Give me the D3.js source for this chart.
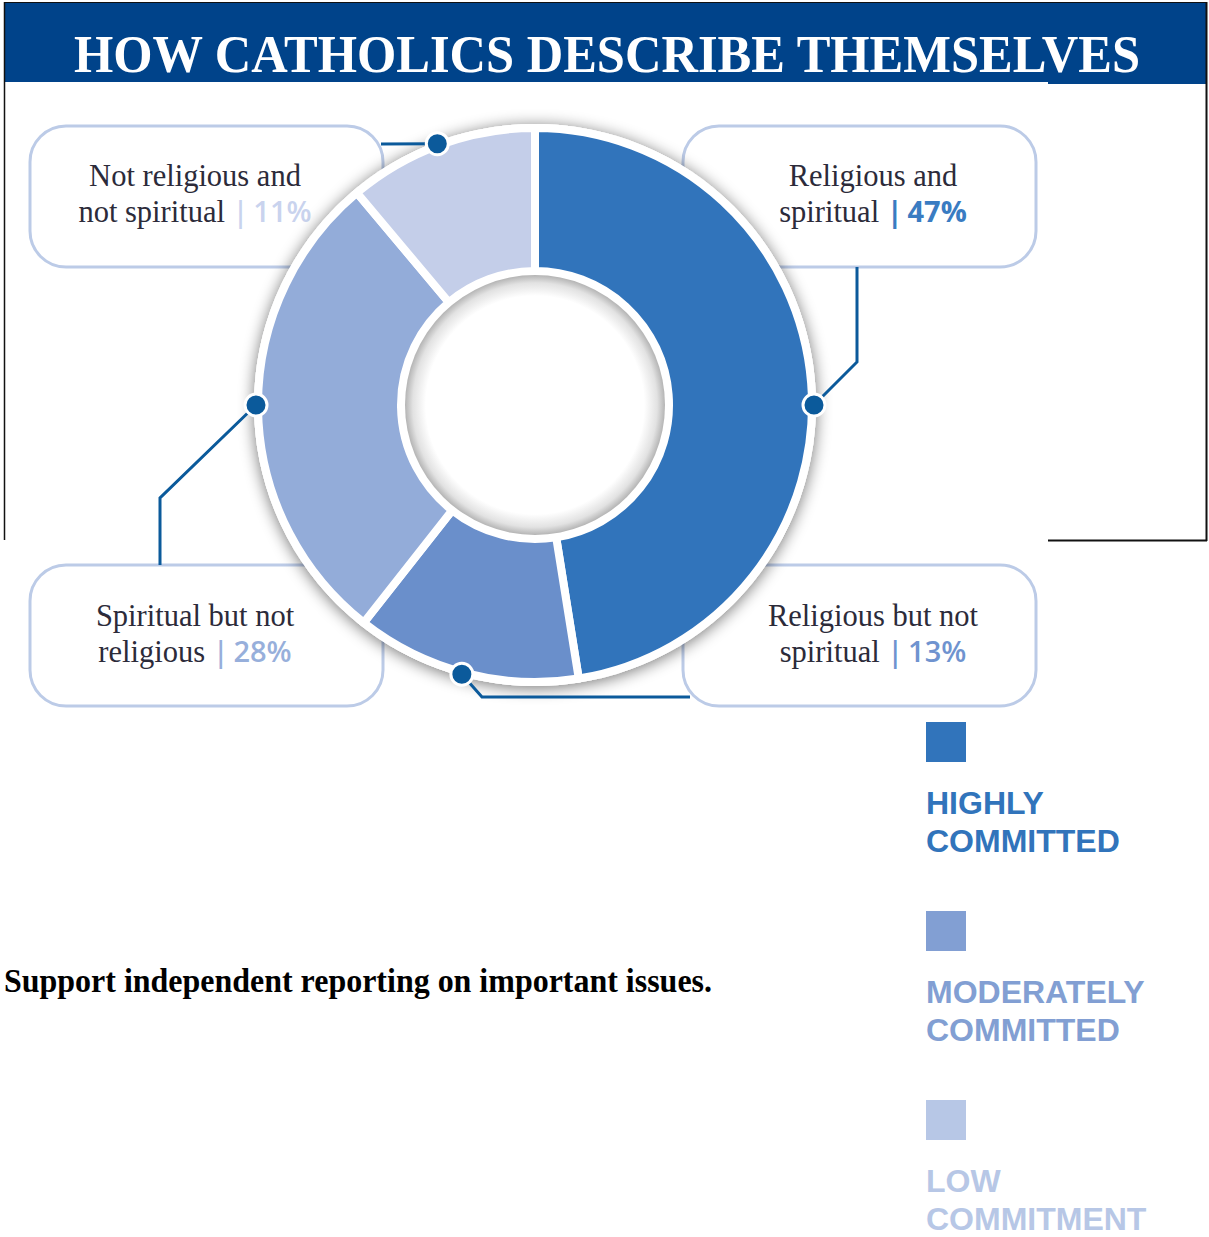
<!DOCTYPE html>
<html>
<head>
<meta charset="utf-8">
<script src="https://cdn.jsdelivr.net/npm/d3@7"></script>
<style>
  body { margin: 0; background: #fff; }
  svg { display: block; }
</style>
</head>
<body>
<div id="chart"></div>
<script>
// ---- data ----
const segNames = ['Religious and spiritual', 'Religious but not spiritual', 'Spiritual but not religious', 'Not religious and not spiritual'];
const segValues = [47, 13, 28, 11];
const segColors = ['#3174bb', '#6a8fcb', '#93acd9', '#c4cee9'];
const segPctColors = ['#3a7cc2', '#6f93cf', '#97afdb', '#c9d3ee'];
const segLines = [
    ['Religious and', 'spiritual'],
    ['Religious but not', 'spiritual'],
    ['Spiritual but not', 'religious'],
    ['Not religious and', 'not spiritual']
];
const legendNames = [['HIGHLY', 'COMMITTED'], ['MODERATELY', 'COMMITTED'], ['LOW', 'COMMITMENT']];
const legendColors = ['#3174bb', '#829fd3', '#b7c7e6'];

const titleText = 'HOW CATHOLICS DESCRIBE THEMSELVES';
const footText = 'Support independent reporting on important issues.';

// ---- layout ----
const W = 1209, H = 1237;
const cx = 535, cy = 405;
const outerR = 277, innerR = 134;
const dotR = 279;

// label boxes: top-left corner, text center x, first baseline, connector
const boxes = [
    { x: 683, y: 126, tx: 873, ty: 186, dotAngle: 90,    path: [[857, 362], [857, 267]] },
    { x: 683, y: 565, tx: 873, ty: 626, dotAngle: 195.2, path: [[482, 697], [690, 697]] },
    { x: 30,  y: 565, tx: 195, ty: 626, dotAngle: 270,   path: [[160, 498], [160, 565]] },
    { x: 30,  y: 126, tx: 195, ty: 186, dotAngle: 339.5, path: [[381, 144]] }
];
const boxW = 353, boxH = 141;

const svg = d3.select('#chart').append('svg')
    .attr('width', W).attr('height', H);

const defs = svg.append('defs');
const shadow = defs.append('filter').attr('id', 'shadow')
    .attr('x', '-20%').attr('y', '-20%').attr('width', '140%').attr('height', '140%');
shadow.append('feGaussianBlur').attr('in', 'SourceAlpha').attr('stdDeviation', 8).attr('result', 'b');
shadow.append('feOffset').attr('in', 'b').attr('dy', 2).attr('result', 'o');
shadow.append('feComponentTransfer').attr('in', 'o').attr('result', 's')
    .append('feFuncA').attr('type', 'linear').attr('slope', 0.55);
const mrg = shadow.append('feMerge');
mrg.append('feMergeNode').attr('in', 's');
mrg.append('feMergeNode').attr('in', 'SourceGraphic');

const holeGrad = defs.append('radialGradient').attr('id', 'hole');
holeGrad.append('stop').attr('offset', '0%').attr('stop-color', '#ffffff');
holeGrad.append('stop').attr('offset', '84%').attr('stop-color', '#ffffff');
holeGrad.append('stop').attr('offset', '94%').attr('stop-color', '#e2e2e2');
holeGrad.append('stop').attr('offset', '100%').attr('stop-color', '#b4b4b4');

// ---- frame and title ----
svg.append('rect').attr('x', 4).attr('y', 2).attr('width', 1203).attr('height', 80).attr('fill', '#00438a');
svg.append('rect').attr('x', 1048).attr('y', 80).attr('width', 159).attr('height', 4).attr('fill', '#00438a');
svg.append('line').attr('x1', 4.5).attr('y1', 2).attr('x2', 4.5).attr('y2', 540).attr('stroke', '#111').attr('stroke-width', 1.5);
svg.append('line').attr('x1', 1206.5).attr('y1', 2).attr('x2', 1206.5).attr('y2', 541).attr('stroke', '#111').attr('stroke-width', 2);
svg.append('line').attr('x1', 1048).attr('y1', 540.5).attr('x2', 1207).attr('y2', 540.5).attr('stroke', '#111').attr('stroke-width', 2);
svg.append('line').attr('x1', 4).attr('y1', 2.5).attr('x2', 1207).attr('y2', 2.5).attr('stroke', '#111').attr('stroke-width', 1);

svg.append('text')
    .attr('x', 607).attr('y', 72)
    .attr('text-anchor', 'middle')
    .attr('font-family', '"Liberation Serif", serif')
    .attr('font-weight', 'bold')
    .attr('font-size', 53)
    .attr('fill', '#fff')
    .attr('textLength', 1066).attr('lengthAdjust', 'spacingAndGlyphs')
    .text(titleText);

// ---- label boxes ----
const boxG = svg.append('g');
boxG.selectAll('rect').data(boxes).join('rect')
    .attr('x', d => d.x).attr('y', d => d.y)
    .attr('width', boxW).attr('height', boxH)
    .attr('rx', 36).attr('ry', 36)
    .attr('fill', '#fff')
    .attr('stroke', '#bccbe7').attr('stroke-width', 3);

boxes.forEach((b, i) => {
    const t = boxG.append('text')
        .attr('text-anchor', 'middle')
        .attr('font-family', '"Liberation Serif", serif')
        .attr('font-size', 30.5)
        .attr('fill', '#2c2b3a');
    t.append('tspan').attr('x', b.tx).attr('y', b.ty).text(segLines[i][0]);
    t.append('tspan').attr('x', b.tx).attr('y', b.ty + 36).text(segLines[i][1] + ' ');
    t.append('tspan')
        .attr('font-family', '"Open Sans", sans-serif')
        .attr('font-size', 29)
        .attr('font-weight', i === 0 ? 700 : 600)
        .attr('fill', segPctColors[i])
        .text('|\u2009' + segValues[i] + '%');
});

// ---- donut ----
const pie = d3.pie().sort(null).value(d => d);
const arc = d3.arc().innerRadius(innerR).outerRadius(outerR);

const donut = svg.append('g').attr('transform', `translate(${cx},${cy})`);
donut.append('circle').attr('r', outerR + 4).attr('fill', '#fff').attr('filter', 'url(#shadow)');
donut.selectAll('path').data(pie(segValues)).join('path')
    .attr('d', arc)
    .attr('fill', (d, i) => segColors[i])
    .attr('stroke', '#fff').attr('stroke-width', 8).attr('stroke-linejoin', 'miter');
donut.append('circle').attr('r', innerR - 4).attr('fill', 'url(#hole)');

// ---- connectors ----
const conn = svg.append('g');
boxes.forEach(b => {
    const a = b.dotAngle * Math.PI / 180;
    const px = cx + dotR * Math.sin(a), py = cy - dotR * Math.cos(a);
    const pts = [[px, py]].concat(b.path);
    conn.append('path')
        .attr('d', d3.line()(pts))
        .attr('fill', 'none').attr('stroke', '#0b5a9b').attr('stroke-width', 3);
    conn.append('circle')
        .attr('cx', px).attr('cy', py).attr('r', 11)
        .attr('fill', '#0b5a9b').attr('stroke', '#fff').attr('stroke-width', 3);
});

// ---- legend ----
const legend = svg.append('g').attr('transform', 'translate(926,722)');
legendNames.forEach((lines, i) => {
    const g = legend.append('g').attr('transform', `translate(0,${i * 189})`);
    g.append('rect').attr('width', 40).attr('height', 40).attr('fill', legendColors[i]);
    const t = g.append('text')
        .attr('font-family', '"Liberation Sans", Arial, sans-serif')
        .attr('font-weight', 'bold')
        .attr('font-size', 32)
        .attr('fill', legendColors[i]);
    lines.forEach((ln, j) => t.append('tspan').attr('x', 0).attr('y', 92 + j * 38).text(ln));
});

// ---- footer ----
svg.append('text')
    .attr('x', 4).attr('y', 992)
    .attr('font-family', '"Liberation Serif", serif')
    .attr('font-weight', 'bold')
    .attr('font-size', 33)
    .attr('fill', '#000')
    .attr('textLength', 708).attr('lengthAdjust', 'spacingAndGlyphs')
    .text(footText);
</script>
</body>
</html>
